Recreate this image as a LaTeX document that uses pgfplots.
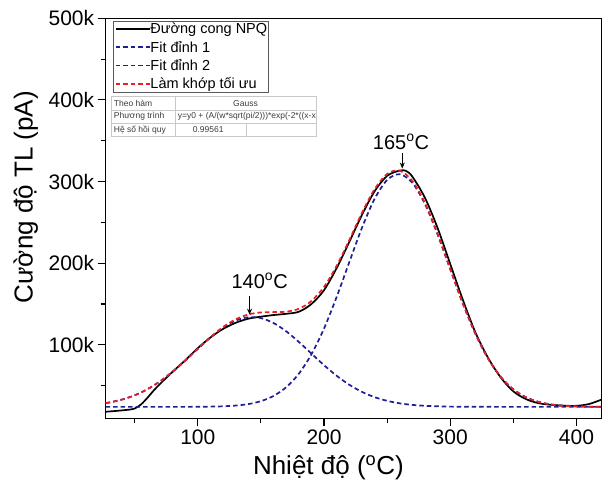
\documentclass[border=0pt]{standalone}
\usepackage{fontspec}
\setmainfont{Liberation Sans}
\usepackage{pgfplots}
\pgfplotsset{compat=1.18}
\usetikzlibrary{arrows.meta,calc}
\definecolor{fitblue}{RGB}{30,30,150}
\definecolor{fitred}{RGB}{235,30,35}
\definecolor{tblgray}{RGB}{200,200,200}
\definecolor{tbltext}{RGB}{60,60,60}

\begin{document}
\begin{tikzpicture}
\begin{axis}[
  scale only axis, width=496pt, height=400pt,
  xmin=27, xmax=420, ymin=10, ymax=500,
  axis line style={line width=1.2pt},
  xtick={100,200,300,400}, minor xtick={50,150,250,350},
  ytick={100,200,300,400,500}, yticklabels={100k,200k,300k,400k,500k},
  minor ytick={50,150,250,350,450},
  tick align=outside, xtick pos=bottom, ytick pos=left,
  major tick length=8pt, minor tick length=5pt,
  tick style={line width=1.1pt, black},
  tick label style={font=\fontsize{21}{24}\selectfont},
  /pgf/number format/assume math mode=true,
  xlabel={Nhiệt độ (\textsuperscript{o}C)},
  ylabel={Cường độ TL (pA)},
  label style={font=\fontsize{26}{30}\selectfont},
  xlabel style={at={(axis description cs:0.449,0)}, anchor=base, yshift=-56.7pt},
  ylabel style={at={(axis description cs:-0.1613,0.553)}, anchor=center},
  legend style={at={(axis description cs:0.0153,0.994)}, anchor=north west,
    draw=gray!70!black, line width=0.8pt, fill=white, inner sep=1pt, row sep=3.8pt,
    font=\fontsize{14.5}{17}\selectfont, cells={anchor=west},
    nodes={inner xsep=0pt, inner ysep=1pt}},
  legend image code/.code={\draw[#1, line width=1.8pt] (0pt,0pt) -- (34pt,0pt);},
  every axis plot/.append style={line width=1.7pt},
]
\addplot[black, smooth, tension=0.5] coordinates {
(27,18) (35,19) (45,20.5) (50,22) (55,27) (60,35) (65,44) (70,52) (80,67) (90,81)
(100,96) (110,109) (120,119.5) (130,127) (140,132) (150,134.5) (160,136.5) (170,138)
(180,140.5) (190,150) (200,167) (210,194) (220,226) (230,259) (240,288) (250,307)
(260,313.5) (265,313) (270,306) (280,280) (290,243) (300,199) (310,155) (320,115)
(330,84) (340,60) (350,43) (360,33.5) (370,28.5) (380,26.5) (390,25.5) (400,25.3)
(410,27.5) (420,33)};
\addlegendentry{Đường cong NPQ}
\addplot[fitblue, dash pattern=on 4.5pt off 3pt, smooth] coordinates {
(27,28.6) (30,29.4) (40,33.0) (50,38.2) (60,45.6) (70,55.2) (80,67.1) (90,80.6)
(100,95.1) (110,109.0) (120,121.1) (130,129.7) (140,133.8) (150,132.7) (160,126.7)
(170,116.6) (180,103.6) (190,89.3) (200,75.0) (210,62.1) (220,51.1) (230,42.4)
(240,35.9) (250,31.4) (260,28.3) (270,26.4) (280,25.3) (290,24.7) (300,24.3)
(310,24.2) (320,24.1) (340,24) (360,24) (380,24) (400,24) (420,24)};
\addlegendentry{Fit đỉnh 1}
\addplot[fitblue, dash pattern=on 4.5pt off 3pt, smooth] coordinates {
(27,24) (60,24) (90,24) (100,24.1) (110,24.3) (120,24.7) (130,25.6) (140,27.4)
(150,31.0) (160,37.4) (170,48.0) (180,64.5) (190,88.4) (200,120.0) (210,158.7)
(220,201.2) (230,243.2) (240,278.6) (250,302.0) (260,309.0) (270,298.4) (280,272.4)
(290,235.1) (300,192.6) (310,150.4) (320,113.2) (330,83.1) (340,60.7) (350,45.4)
(360,35.8) (370,30.1) (380,26.9) (390,25.3) (400,24.6) (410,24.2) (420,24.1)};
\addlegendentry{Fit đỉnh 2}
\addplot[fitred, dash pattern=on 4.5pt off 3pt, smooth] coordinates {
(27,28.6) (30,29.4) (40,33.0) (50,38.2) (60,45.6) (70,55.2) (80,67.1) (90,80.6)
(100,95.2) (110,109.3) (120,121.8) (130,131.3) (140,137.2) (150,139.7) (160,140.1)
(170,140.6) (180,144.1) (190,153.7) (200,171.0) (210,196.8) (220,228.3) (230,261.6)
(240,290.5) (250,309.4) (260,313.3) (270,300.8) (280,273.7) (290,235.8) (300,192.9)
(310,150.6) (320,113.3) (330,83.1) (340,60.7) (350,45.4) (360,35.8) (370,30.1)
(380,26.9) (390,25.3) (400,24.6) (410,24.2) (420,24.1)};
\addlegendentry{Làm khớp tối ưu}
\node[font=\fontsize{20}{24}\selectfont] at (axis cs:149,178.5) {140\textsuperscript{o}C};
\draw[-{Stealth[length=6pt,width=5pt]}, line width=0.8pt] (axis cs:141,160) -- (axis cs:141,137);
\node[font=\fontsize{20}{24}\selectfont] at (axis cs:261,348.4) {165\textsuperscript{o}C};
\draw[-{Stealth[length=6pt,width=5pt]}, line width=0.8pt] (axis cs:262,334.5) -- (axis cs:262,316);
\end{axis}
% results table drawn by Origin inside the plot
\begin{scope}[shift={(current axis.north west)}, x=1pt, y=-1pt,
  every node/.style={font=\fontsize{8.5}{10}\selectfont, text=tbltext, inner sep=1pt}]
  \fill[white] (6,78.4) rectangle (210.3,118.4);
  \begin{scope}
    \clip (6,78.4) rectangle (210.3,118.4);
    \node[anchor=west] at (7,85) {Theo hàm};
    \node at (139.8,85) {Gauss};
    \node[anchor=west] at (7,98.4) {Phương trình};
    \node[anchor=west] at (71,98.4) {y=y0 + (A/(w*sqrt(pi/2)))*exp(-2*((x-xc)/w)\^{}2)};
    \node[anchor=west] at (7,111.7) {Hệ số hồi quy};
    \node[anchor=west] at (86,111.7) {0.99561};
  \end{scope}
  \draw[tblgray, line width=0.6pt] (6,78.4) rectangle (210.3,118.4);
  \draw[tblgray, line width=0.6pt] (6,91.7) -- (210.3,91.7) (6,105.1) -- (210.3,105.1)
    (69.3,78.4) -- (69.3,118.4) (141,105.1) -- (141,118.4);
\end{scope}
\pgfresetboundingbox
\path[use as bounding box] ($(current axis.south west)+(-105.7pt,-67.7pt)$) rectangle ++(608pt,486pt);
\end{tikzpicture}
\end{document}
